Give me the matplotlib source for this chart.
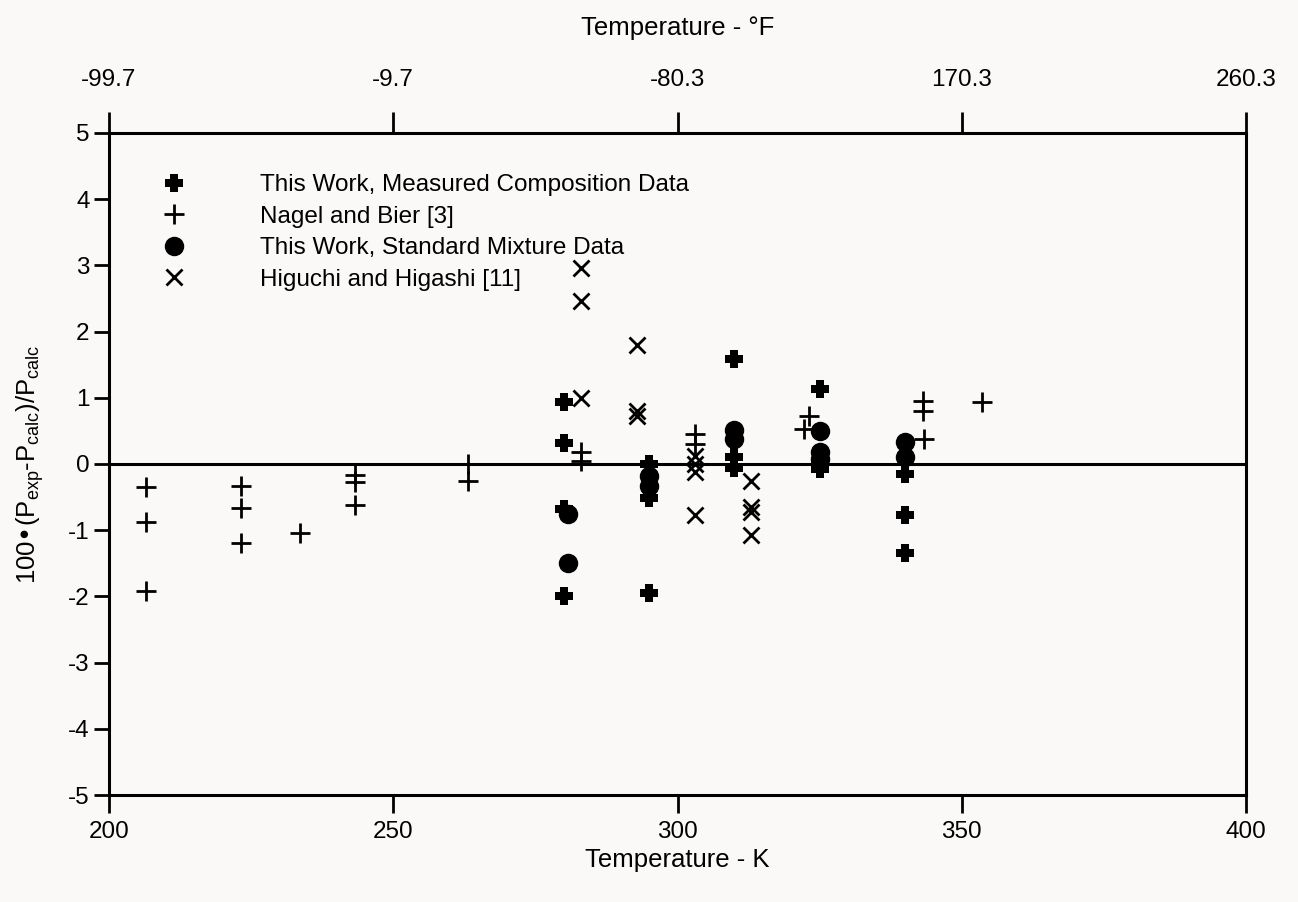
import matplotlib
matplotlib.use("Agg")
import matplotlib.pyplot as plt
from matplotlib.lines import Line2D
from matplotlib.path import Path

plt.rcParams['font.family'] = ['Liberation Sans', 'DejaVu Sans']
plt.rcParams['mathtext.default'] = 'regular'
plt.rcParams['axes.unicode_minus'] = False

# This work, measured composition data
measured_T = [280, 280, 280, 280, 295, 295, 295, 310, 310, 310, 325, 325, 325, 340, 340, 340]
measured_dev = [0.93, 0.32, -0.68, -2.0, 0.0, -0.52, -1.95, 1.58, 0.1, -0.06,
                1.13, 0.0, -0.08, -0.15, -0.77, -1.35]

# Nagel and Bier [3]
nagel_T = [206.5, 206.5, 206.5, 223.2, 223.2, 223.2, 233.6, 243.2, 243.2, 243.2,
           263.1, 263.1, 283, 283, 303, 303, 322.3, 323.2, 343.2, 343.2, 343.4, 353.5]
nagel_dev = [-0.35, -0.88, -1.92, -0.33, -0.67, -1.2, -1.04, -0.16, -0.27, -0.62,
             0.0, -0.26, 0.18, 0.05, 0.45, 0.3, 0.53, 0.73, 0.95, 0.8, 0.38, 0.93]

# This work, standard mixture data
mixture_T = [280.7, 280.7, 295, 295, 310, 310, 325, 325, 325, 340, 340]
mixture_dev = [-0.75, -1.5, -0.18, -0.33, 0.52, 0.38, 0.5, 0.18, 0.08, 0.33, 0.1]

# Higuchi and Higashi [11]
higuchi_T = [283, 283, 283, 292.8, 292.8, 292.8, 303, 303, 303, 303, 313, 313, 313, 313]
higuchi_dev = [2.96, 2.46, 1.0, 1.8, 0.8, 0.72, 0.12, 0.0, -0.12, -0.77,
               -0.26, -0.65, -0.73, -1.08]

k_ticks = [200, 250, 300, 350, 400]
f_labels = ['-99.7', '-9.7', '-80.3', '170.3', '260.3']
y_ticks = [-5, -4, -3, -2, -1, 0, 1, 2, 3, 4, 5]

# chunky filled cross marker
a, b = 0.24, 0.5
fat_cross = Path([(-a, b), (a, b), (a, a), (b, a), (b, -a), (a, -a), (a, -b),
                  (-a, -b), (-a, -a), (-b, -a), (-b, a), (-a, a), (-a, b)],
                 closed=True)

bg = '#fbf9f7'
fig = plt.figure(figsize=(12.98, 9.02), dpi=100, facecolor=bg)
ax = fig.add_axes([0.084, 0.1186, 0.876, 0.734])
ax.set_facecolor(bg)

ax.axhline(0, color='black', lw=2.2, zorder=1)

ax.plot(measured_T, measured_dev, linestyle='none', marker=fat_cross, ms=13,
        color='black', mew=0, zorder=3)
ax.plot(nagel_T, nagel_dev, linestyle='none', marker='+', ms=14,
        color='black', mew=2.0, zorder=3)
ax.plot(mixture_T, mixture_dev, linestyle='none', marker='o', ms=13,
        color='black', zorder=3)
ax.plot(higuchi_T, higuchi_dev, linestyle='none', marker='x', ms=11.5,
        color='black', mew=2.0, zorder=3)

ax.set_xlim(200, 400)
ax.set_ylim(-5, 5)
ax.set_xticks(k_ticks)
ax.set_yticks(y_ticks)
for s in ax.spines.values():
    s.set_linewidth(2.2)
ax.tick_params(axis='x', direction='out', length=13, width=2, labelsize=17.5, pad=6)
ax.tick_params(axis='y', direction='out', length=11, width=2, labelsize=17.5, pad=3)
ax.set_xlabel('Temperature - K', fontsize=18.5, labelpad=3)
ax.set_ylabel(r'100•(P$_{exp}$-P$_{calc}$)/P$_{calc}$', fontsize=18.5, labelpad=16)

ax2 = ax.twiny()
ax2.set_xlim(ax.get_xlim())
ax2.set_xticks(k_ticks)
ax2.set_xticklabels(f_labels)
ax2.tick_params(axis='x', direction='out', length=15, width=2, labelsize=17.5, pad=15)
ax2.set_xlabel('Temperature - °F', fontsize=18.5, labelpad=25)

handles = [
    Line2D([], [], linestyle='none', marker=fat_cross, ms=13, color='black', mew=0),
    Line2D([], [], linestyle='none', marker='+', ms=14, color='black', mew=2.0),
    Line2D([], [], linestyle='none', marker='o', ms=13, color='black'),
    Line2D([], [], linestyle='none', marker='x', ms=11.5, color='black', mew=2.0),
]
labels = ['This Work, Measured Composition Data', 'Nagel and Bier [3]',
          'This Work, Standard Mixture Data', 'Higuchi and Higashi [11]']
ax.legend(handles, labels, loc='upper left', bbox_to_anchor=(0.027, 0.952),
          frameon=False, fontsize=17.5, numpoints=1, handlelength=2.0,
          handletextpad=2.55, labelspacing=0.39, borderaxespad=0)

fig.savefig('out.png', dpi=100, facecolor=bg)
